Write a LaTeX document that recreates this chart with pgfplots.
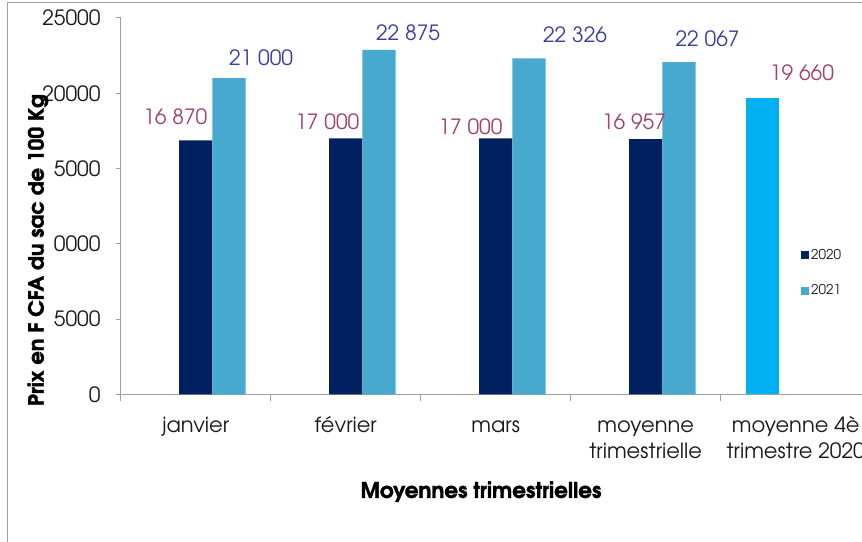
\documentclass[border=0pt]{standalone}
\usepackage{pgfplots}
\usepackage{pgfplotstable}
\pgfplotsset{compat=1.18}
\usepackage{fontspec}
\setmainfont{TeX Gyre Adventor}[BoldFeatures={FakeBold=1.6}]
\definecolor{cA}{HTML}{002060}
\definecolor{cB}{HTML}{48A9CE}
\definecolor{cC}{HTML}{00B0F0}
\definecolor{labA}{HTML}{A0416F}
\definecolor{labB}{HTML}{3A3DA0}
\definecolor{axgray}{HTML}{A0A0A0}
\definecolor{txt}{HTML}{1A1A1A}

\pgfplotstableread[col sep=comma]{
x,y,dx,dy,lab
0,16870,-20.4,23.4,16 870
1,17000,-18.4,16.5,17 000
2,17000,-25.2,11.5,17 000
3,16957,-11.7,17.4,16 957
}\tA
\pgfplotstableread[col sep=comma]{
x,y,dx,dy,lab
0,21000,32,20.2,21 000
1,22875,29,17,22 875
2,22326,46,24,22 326
3,22067,28.5,23.9,22 067
}\tB
\pgfplotstableread[col sep=comma]{
x,y,dx,dy,lab
4,19660,39.6,25.4,19 660
}\tC

\begin{document}
\begin{tikzpicture}
\path[use as bounding box] (0,0) rectangle (862pt,541pt);
\clip (0,0) rectangle (862pt,541pt);
\fill[white] (0,0) rectangle (862pt,541pt);
\draw[axgray, line width=1pt] (7.5pt,-5pt) -- (7.5pt,538pt) -- (880pt,538pt);
\begin{axis}[
  at={(120.7pt,146.5pt)}, anchor=south west,
  scale only axis, width=750pt, height=376.5pt,
  xmin=-0.5, xmax=4.5, ymin=0, ymax=25000,
  enlargelimits=false,
  scaled y ticks=false,
  ybar, bar width=33.33pt,
  axis x line*=bottom, axis y line*=left,
  axis line style={axgray, line width=1pt},
  tick align=outside,
  major tick length=5pt, minor tick length=6pt,
  tick style={axgray, line width=1pt},
  every major x tick/.append style={draw=none},
  xtick={0,1,2,3,4},
  minor xtick={-0.5,0.5,1.5,2.5,3.5,4.5},
  xticklabels={{\strut janvier},{\strut février},{\strut mars},{\strut moyenne\\trimestrielle},{\strut moyenne 4è\\trimestre 2020}},
  xticklabel style={anchor=north, align=center, inner sep=0pt, yshift=-14.8pt, text=txt, font=\fontsize{21}{26}\selectfont},
  ytick={0,5000,10000,15000,20000,25000},
  yticklabels={0,5000,0000,5000,20000,25000},
  yticklabel style={anchor=east, inner sep=0pt, xshift=-15pt, text=txt, font=\fontsize{21}{26}\selectfont},
  xlabel={Moyennes trimestrielles},
  xlabel style={at={(0.4804,-0.258)}, anchor=center, font=\bfseries\fontsize{21.5}{25}\selectfont, text=black},
  ylabel={Prix en F CFA du sac de 100 Kg},
  ylabel style={at={(-0.1103,0.384)}, anchor=center, font=\bfseries\fontsize{21}{25}\selectfont, text=black},
  point meta=explicit symbolic,
  nodes near coords,
  visualization depends on={\thisrow{dx}\as\labdx},
  visualization depends on={\thisrow{dy}\as\labdy},
  every node near coord/.append style={anchor=center, inner sep=0pt, xshift=\labdx pt, yshift=\labdy pt, font=\fontsize{21}{26}\selectfont},
  legend style={at={(0.907,0.392)}, anchor=north west, draw=none, fill=none, inner sep=0pt,
    font=\fontsize{13.5}{16}\selectfont, row sep=20pt, text=txt},
  legend cell align=left,
]
\addplot[fill=cC, draw=none, bar shift=-33.33pt, forget plot,
  every node near coord/.append style={text=labA}]
  table[x=x, y=y, meta=lab] {\tC};
\addplot[fill=cA, draw=none, bar shift=0pt,
  every node near coord/.append style={text=labA},
  legend image code/.code={\fill[cA] (0pt,-4pt) rectangle (8pt,4pt);}]
  table[x=x, y=y, meta=lab] {\tA};
\addplot[fill=cB, draw=none, bar shift=33.33pt,
  every node near coord/.append style={text=labB},
  legend image code/.code={\fill[cB] (0pt,-4pt) rectangle (8pt,4pt);}]
  table[x=x, y=y, meta=lab] {\tB};
\legend{2020,2021}
\end{axis}
\end{tikzpicture}
\end{document}
